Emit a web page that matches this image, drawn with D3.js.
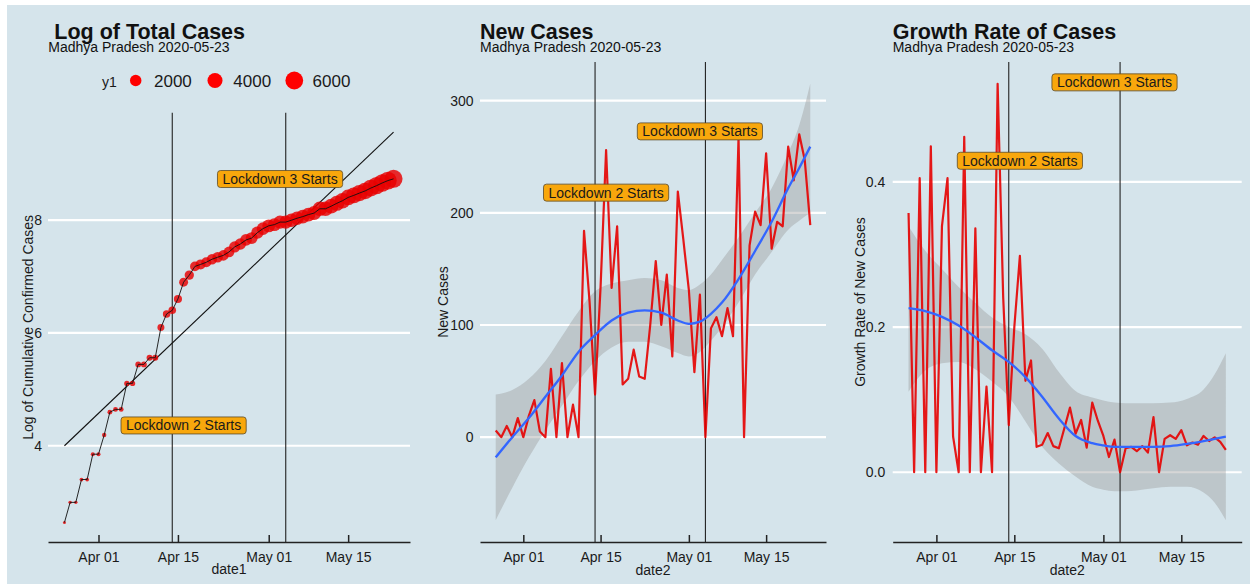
<!DOCTYPE html>
<html>
<head>
<meta charset="utf-8">
<script src="https://cdn.jsdelivr.net/npm/d3@7"></script>
<style>
  body { margin: 0; background: #fff; }
  svg { display: block; }
</style>
</head>
<body>
<div id="chart"></div>
<script>
const FONT = '"Liberation Sans", Arial, sans-serif';
const parseDate = d3.timeParse("%Y-%m-%d");

// cumulative confirmed cases, one per day from 2020-03-26 to 2020-05-23
const totalCases = [14, 20, 20, 30, 30, 47, 47, 66, 99, 104, 104, 165, 165, 231, 231, 260, 260,
  444, 565, 603, 737, 993, 1126, 1314, 1361, 1413, 1491, 1545, 1597, 1697, 1854, 1954, 2099,
  2171, 2390, 2566, 2697, 2755, 2882, 2882, 2979, 3086, 3176, 3291, 3381, 3648, 3648, 3819,
  4020, 4209, 4462, 4630, 4822, 5010, 5269, 5498, 5768, 6015, 6204];

// new cases per day, 2020-03-27 to 2020-05-23
const newCases = [6, 0, 10, 0, 17, 0, 19, 33, 5, 0, 61, 0, 66, 0, 29, 0,
  184, 121, 38, 134, 256, 133, 188, 47, 52, 78, 54, 52, 100, 157,
  100, 145, 72, 219, 176, 131, 58, 127, 0, 97, 107, 90, 115, 90, 267, 0,
  171, 201, 189, 253, 168, 192, 188, 259, 229, 270, 247, 189];

// growth rate of new cases, same days as newCases
const growthRate = [0.357, 0, 0.405, 0, 0.449, 0, 0.339, 0.405, 0.049, 0, 0.462, 0, 0.336, 0, 0.118, 0,
  0.535, 0.241, 0.065, 0.200, 0.298, 0.126, 0.154, 0.035, 0.038, 0.054, 0.036, 0.033, 0.061, 0.089,
  0.053, 0.072, 0.034, 0.096, 0.071, 0.050, 0.021, 0.045, 0, 0.033, 0.035, 0.029, 0.036, 0.027, 0.076, 0,
  0.046, 0.051, 0.046, 0.058, 0.037, 0.041, 0.038, 0.050, 0.043, 0.048, 0.042, 0.031];

// straight trend line of the log series (end points)
const trendDates = ["2020-03-26", "2020-05-23"];
const trendValues = [4.0, 9.56];

// smoothed curves (read at these dates)
const smoothDates = ["2020-03-27", "2020-03-30", "2020-04-02", "2020-04-05", "2020-04-08", "2020-04-11",
  "2020-04-14", "2020-04-17", "2020-04-20", "2020-04-23", "2020-04-26", "2020-04-29", "2020-05-01",
  "2020-05-03", "2020-05-05", "2020-05-07", "2020-05-10", "2020-05-13", "2020-05-16", "2020-05-19",
  "2020-05-21", "2020-05-23"];
const newFit = [-18, 0, 17, 36, 55, 76, 91, 104, 111, 113, 111, 104, 101, 103, 110, 120, 141, 166, 192, 222, 240, 259];
const newLow = [-74, -45, -18, 6, 28, 50, 68, 80, 85, 85, 81, 75, 72, 76, 86, 98, 120, 145, 165, 185, 193, 200];
const newHigh = [38, 42, 52, 68, 90, 112, 130, 137, 140, 142, 140, 133, 131, 136, 145, 158, 178, 200, 222, 253, 278, 315];
const growthFit = [0.226, 0.222, 0.214, 0.202, 0.186, 0.168, 0.152, 0.131, 0.104, 0.074, 0.050, 0.040, 0.037,
  0.035, 0.035, 0.035, 0.035, 0.036, 0.039, 0.043, 0.046, 0.049];
const growthLow = [0.111, 0.140, 0.150, 0.152, 0.142, 0.125, 0.104, 0.070, 0.035, 0.012, -0.006, -0.020, -0.024,
  -0.026, -0.026, -0.025, -0.022, -0.020, -0.020, -0.028, -0.042, -0.066];
const growthHigh = [0.339, 0.305, 0.280, 0.255, 0.233, 0.213, 0.200, 0.190, 0.170, 0.138, 0.112, 0.103, 0.099,
  0.096, 0.095, 0.095, 0.095, 0.096, 0.101, 0.114, 0.135, 0.164];

const lockdownDates = ["2020-04-14", "2020-05-04"];
const lockdownLabels = ["Lockdown 2 Starts", "Lockdown 3 Starts"];
const xTickDates = ["2020-04-01", "2020-04-15", "2020-05-01", "2020-05-15"];
const legendValues = [2000, 4000, 6000];
const subtitle = "Madhya Pradesh 2020-05-23";

const days1 = d3.timeDay.range(parseDate("2020-03-26"), parseDate("2020-05-24"));
const days2 = days1.slice(1);

const totals = days1.map((d, i) => ({ date: d, value: totalCases[i] }));
const news = days2.map((d, i) => ({ date: d, value: newCases[i] }));
const growth = days2.map((d, i) => ({ date: d, value: growthRate[i] }));
const newSmooth = smoothDates.map((d, i) => ({ date: parseDate(d), fit: newFit[i], lo: newLow[i], hi: newHigh[i] }));
const growthSmooth = smoothDates.map((d, i) => ({ date: parseDate(d), fit: growthFit[i], lo: growthLow[i], hi: growthHigh[i] }));

const W = 1250, H = 586;
const svg = d3.select("#chart").append("svg")
  .attr("width", W).attr("height", H)
  .attr("font-family", FONT);

svg.append("rect")
  .attr("x", 7).attr("y", 5)
  .attr("width", W - 7).attr("height", 579)
  .attr("fill", "#d5e4eb");

const expand = ([a, b]) => {
  const pad = (b - a) * 0.05;
  return [a - pad, b + pad];
};

function frame(p) {
  const g = svg.append("g");
  const xe = expand(p.xExtent.map(d => +d));
  const x = d3.scaleTime().domain([new Date(xe[0]), new Date(xe[1])]).range([p.left, p.right]);
  const y = d3.scaleLinear().domain(expand(p.yExtent)).range([p.bottom, p.top]);

  g.selectAll("line.grid").data(p.yTicks).join("line")
    .attr("class", "grid")
    .attr("x1", p.left).attr("x2", p.right)
    .attr("y1", d => y(d)).attr("y2", d => y(d))
    .attr("stroke", "#fff").attr("stroke-width", 2.2);

  const ya = g.append("g")
    .attr("transform", `translate(${p.left},0)`)
    .call(d3.axisLeft(y).tickValues(p.yTicks).tickFormat(p.yFormat).tickSize(0).tickPadding(p.yPad));
  ya.select(".domain").remove();
  ya.attr("font-family", FONT).attr("font-size", 14);
  ya.selectAll("text").attr("fill", "#1a1a1a");

  g.append("text")
    .attr("transform", `translate(${p.yTitleX},${(p.top + p.bottom) / 2}) rotate(-90)`)
    .attr("text-anchor", "middle")
    .attr("font-size", 14)
    .attr("fill", "#1a1a1a")
    .text(p.yTitle);

  g.append("text")
    .attr("x", p.titleX).attr("y", 38.5)
    .attr("font-size", 21.5).attr("font-weight", "bold")
    .attr("fill", "#111")
    .text(p.title);
  g.append("text")
    .attr("x", p.subX).attr("y", 51.5)
    .attr("font-size", 14)
    .attr("fill", "#111")
    .text(subtitle);

  g.append("text")
    .attr("x", (p.left + p.right) / 2).attr("y", p.xTitleY)
    .attr("text-anchor", "middle")
    .attr("font-size", 14)
    .attr("fill", "#1a1a1a")
    .text(p.xTitle);

  return { g, x, y };
}

function xAxis(g, p, x) {
  const xa = g.append("g")
    .attr("transform", `translate(0,${p.bottom})`)
    .call(d3.axisBottom(x)
      .tickValues(xTickDates.map(parseDate))
      .tickFormat(d3.timeFormat("%b %d"))
      .tickSizeInner(-7).tickSizeOuter(0).tickPadding(10));
  xa.attr("font-family", FONT).attr("font-size", 14);
  xa.select(".domain").attr("stroke", "#222").attr("stroke-width", 1.5);
  xa.selectAll(".tick line").attr("stroke", "#222").attr("stroke-width", 1.5);
  xa.selectAll("text").attr("fill", "#1a1a1a");
}

function vlines(g, p, x) {
  g.selectAll("line.vl").data(lockdownDates).join("line")
    .attr("class", "vl")
    .attr("x1", d => x(parseDate(d))).attr("x2", d => x(parseDate(d)))
    .attr("y1", p.top).attr("y2", p.bottom)
    .attr("stroke", "#222").attr("stroke-width", 1.1);
}

function tag(g, cx, cy, label) {
  const t = g.append("text")
    .attr("x", cx).attr("y", cy + 5)
    .attr("text-anchor", "middle")
    .attr("font-size", 14)
    .attr("fill", "#1a1a1a")
    .text(label);
  const w = t.node().getComputedTextLength() + 10;
  g.insert("rect", () => t.node())
    .attr("x", cx - w / 2).attr("y", cy - 8.5)
    .attr("width", w).attr("height", 17)
    .attr("rx", 3)
    .attr("fill", "#f8a70c")
    .attr("stroke", "#5a4a2a").attr("stroke-width", 0.8);
}

function tags(g, x, y, spots) {
  spots.forEach((s, i) => tag(g, x(parseDate(s[0])), y(s[1]), lockdownLabels[i]));
}

// ---------- panel 1: log of total cases ----------
const p1 = {
  left: 48, right: 410, top: 112.7, bottom: 542,
  xExtent: d3.extent(days1),
  yExtent: d3.extent(totalCases.map(Math.log).concat(trendValues)),
  yTicks: [4, 6, 8], yFormat: d3.format("d"), yPad: 6,
  yTitle: "Log of Cumulative Confirmed Cases", yTitleX: 33,
  title: "Log of Total Cases", titleX: 54.3, subX: 48.3,
  xTitle: "date1", xTitleY: 573.5
};
{
  const { g, x, y } = frame(p1);
  vlines(g, p1, x);

  g.append("line")
    .attr("x1", x(parseDate(trendDates[0]))).attr("y1", y(trendValues[0]))
    .attr("x2", x(parseDate(trendDates[1]))).attr("y2", y(trendValues[1]))
    .attr("stroke", "#111").attr("stroke-width", 1.1);

  const sizeScale = d3.scaleLinear().domain(d3.extent(totalCases)).range([0, 1]);
  const radius = v => 1.5 + 7.5 * Math.sqrt(Math.max(0, sizeScale(v)));

  g.selectAll("circle.pt").data(totals).join("circle")
    .attr("class", "pt")
    .attr("cx", d => x(d.date)).attr("cy", d => y(Math.log(d.value)))
    .attr("r", d => radius(d.value))
    .attr("fill", "#e80000").attr("fill-opacity", 0.82);

  g.append("path").datum(totals)
    .attr("d", d3.line().x(d => x(d.date)).y(d => y(Math.log(d.value))))
    .attr("fill", "none").attr("stroke", "#111").attr("stroke-width", 0.9);

  tags(g, x, y, [["2020-04-16", 4.36], ["2020-05-03", 8.73]]);
  xAxis(g, p1, x);

  // size legend
  const lg = svg.append("g");
  lg.append("text").attr("x", 102).attr("y", 87)
    .attr("font-size", 14).attr("fill", "#1a1a1a").text("y1");
  legendValues.forEach((v, i) => {
    const cx = 135.7 + i * 79.3;
    lg.append("circle").attr("cx", cx).attr("cy", 80.5).attr("r", radius(v)).attr("fill", "#f00");
    lg.append("text").attr("x", cx + 18.3).attr("y", 87)
      .attr("font-size", 17).attr("fill", "#1a1a1a").text(v);
  });
}

// ---------- panel 2: new cases ----------
const p2 = {
  left: 480, right: 826, top: 62, bottom: 542,
  xExtent: d3.extent(days2),
  yExtent: d3.extent(newCases.concat(newLow, newHigh)),
  yTicks: [0, 100, 200, 300], yFormat: d3.format("d"), yPad: 6.5,
  yTitle: "New Cases", yTitleX: 448,
  title: "New Cases", titleX: 480, subX: 480,
  xTitle: "date2", xTitleY: 575
};
// ---------- panel 3: growth rate ----------
const p3 = {
  left: 892.7, right: 1241.7, top: 62, bottom: 542,
  xExtent: d3.extent(days2),
  yExtent: d3.extent(growthRate.concat(growthLow, growthHigh)),
  yTicks: [0, 0.2, 0.4], yFormat: d3.format(".1f"), yPad: 7.5,
  yTitle: "Growth Rate of New Cases", yTitleX: 865,
  title: "Growth Rate of Cases", titleX: 892.7, subX: 892.7,
  xTitle: "date2", xTitleY: 575
};

function seriesPanel(p, series, smooth, spots) {
  const { g, x, y } = frame(p);

  g.append("path").datum(smooth)
    .attr("d", d3.area().curve(d3.curveMonotoneX)
      .x(d => x(d.date)).y0(d => y(d.lo)).y1(d => y(d.hi)))
    .attr("fill", "#999").attr("fill-opacity", 0.4);

  vlines(g, p, x);

  g.append("path").datum(series)
    .attr("d", d3.line().x(d => x(d.date)).y(d => y(d.value)))
    .attr("fill", "none").attr("stroke", "#e60000")
    .attr("stroke-opacity", 0.9).attr("stroke-width", 2.2)
    .attr("stroke-linejoin", "round");

  g.append("path").datum(smooth)
    .attr("d", d3.line().curve(d3.curveMonotoneX).x(d => x(d.date)).y(d => y(d.fit)))
    .attr("fill", "none").attr("stroke", "#3366ff").attr("stroke-width", 2.3);

  tags(g, x, y, spots);
  xAxis(g, p, x);
}

seriesPanel(p2, news, newSmooth, [["2020-04-16", 218], ["2020-05-03", 272.6]]);
seriesPanel(p3, growth, growthSmooth, [["2020-04-16", 0.429], ["2020-05-03", 0.537]]);
</script>
</body>
</html>
